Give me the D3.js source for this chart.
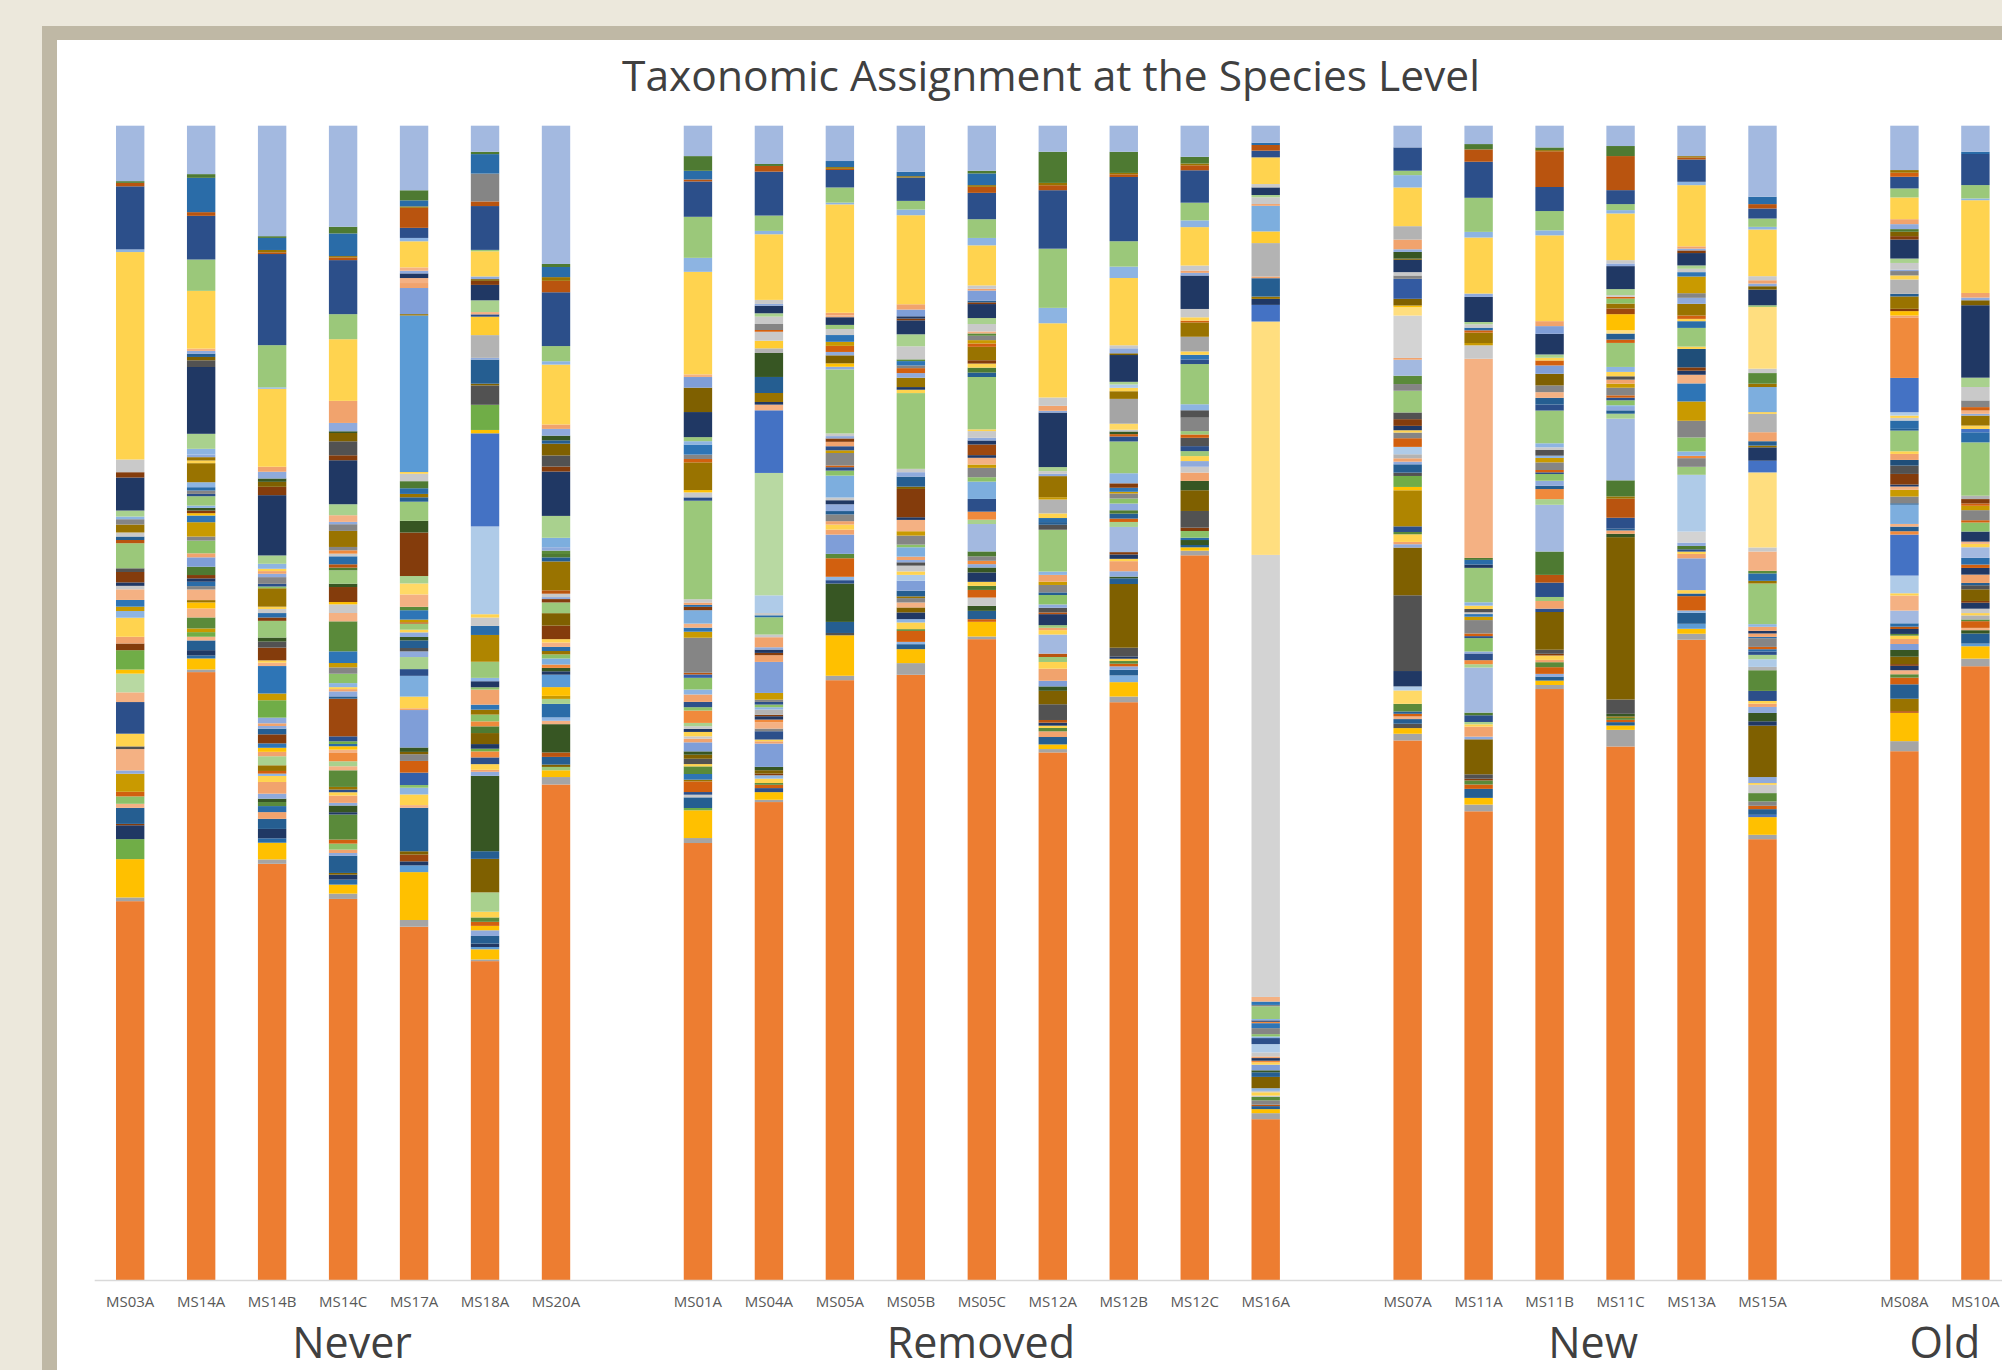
<!DOCTYPE html>
<html lang="en">
<head>
<meta charset="UTF-8">
<script src="https://d3js.org/d3.v7.min.js"></script>
<style>
  html, body { margin: 0; height: 100%; overflow: hidden; background: #ECE8DC; }
</style>
<title>Taxonomic Assignment at the Species Level</title>
</head>
<body>
<svg id="svg"></svg>
<script>
// groups and samples, left to right (a blank slot separates the groups)
const groupNames = ['Never', 'Removed', 'New', 'Old'];
const neverSamples = ['MS03A', 'MS14A', 'MS14B', 'MS14C', 'MS17A', 'MS18A', 'MS20A'];
const removedSamples = ['MS01A', 'MS04A', 'MS05A', 'MS05B', 'MS05C', 'MS12A', 'MS12B', 'MS12C', 'MS16A'];
const newSamples = ['MS07A', 'MS11A', 'MS11B', 'MS11C', 'MS13A', 'MS15A'];
const oldSamples = ['MS08A', 'MS10A'];

// taxon colour keys (Excel palette)
const taxonColors = {
  o: '#ED7D31', g: '#A5A5A5', y: '#FFC000', b: '#5B9BD5', G: '#70AD47', B: '#4472C4',
  lb: '#A3B9E0', db: '#2C4F8A', nv: '#203864', nv2: '#1F4E79', ly: '#FFD34F', ly2: '#FFD966',
  y2: '#FFCC33', cream: '#FFDE7F', lg: '#9BC87A', lg2: '#8CC168', paleg: '#A9D18E', paleg2: '#B8D9A2',
  sb: '#8DB4E2', sb2: '#7DAEDE', sb3: '#AFCBE8', dg: '#4E7A32', mg: '#5A8A3A', fg: '#375623',
  rb: '#B9540F', or2: '#D2600F', or3: '#F08A3C', br: '#843C0C', br2: '#9E480E', mb: '#2A6CA8',
  mb2: '#2E75B6', teal: '#255E91', ol: '#7F6000', go: '#997300', gold2: '#AF8500', mustard: '#C99A00',
  dk: '#525252', gr2: '#858585', gr: '#B3B3B3', lgy: '#C9C9C9', lgy2: '#D3D3D3', pa: '#F4B183',
  sa: '#F1A36D', pb: '#8FAADC', pb2: '#7F9ED8', B2: '#335AA1', db2: '#3560A8'
};

// relative abundance (%) per sample, listed from the top of the bar down
const ms03a = [['lb',4.8],['dg',.15],['rb',.3],['db',5.46],['sb',.23],['ly',17.96],['lgy',1.1],['br',.46],['nv',2.86],['paleg',.52],['sb',.23],['gr2',.46],['go',.69],['lgy',.35],['teal',.3],['rb',.28],['lg',2.17],['dk',.32],['br',.9],['nv',.3],['lgy',.3],['pa',.92],['mb2',.58],['mustard',.38],['sb',.58],['ly',1.65],['sa',.58],['br',.58],['G',1.68],['y',.35],['paleg2',1.62],['pa',.84],['db',2.74],['ly',1.1],['dk',.23],['pa',1.85],['pb',.29],['mustard',1.56],['or2',.4],['lg2',.64],['pa',.35],['teal',1.39],['br',.12],['nv',1.2],['G',1.73],['y',3.32],['g',.32],['o',32.8]];
const ms14a = [['lb',4.19],['dg',.32],['mb',2.97],['rb',.32],['db',3.78],['lg',2.71],['ly',5.0],['pa',.2],['pb',.23],['teal',.29],['ol',.29],['dk',.58],['nv',5.78],['paleg',1.3],['sb',.49],['pb',.23],['go',.29],['ly',.23],['go',1.65],['sb',.43],['mb',.29],['gr2',.29],['db',.2],['lg',.81],['sb',.2],['fg',.23],['br',.23],['y',.2],['mb2',.58],['mustard',1.24],['gr2',.35],['lg2',1.1],['sa',.35],['pb2',.81],['dg',.72],['br',.29],['nv',.29],['mb',.38],['gr2',.29],['pa',.92],['go',.2],['y',.52],['pa',.78],['mg',.95],['mustard',.32],['G',.4],['pa',.32],['teal',.84],['nv',.46],['mb',.26],['y',.95],['g',.23],['o',52.6]];
const ms14b = [['lb',9.53],['dg',.15],['mb',1.04],['go',.2],['rb',.15],['db',7.86],['lg',3.64],['sb',.12],['ly',6.73],['sa',.43],['pb',.58],['fg',.29],['ol',.43],['br',.72],['nv',5.2],['paleg',.72],['sb',.43],['ly',.2],['sa',.23],['pb',.29],['gr2',.58],['db',.23],['lg2',.15],['go',1.59],['ly',.2],['lgy',.35],['mb',.38],['br',.29],['lg',1.44],['fg',.35],['dk',.52],['br',1.1],['ly',.2],['pa',.29],['mb2',2.37],['mustard',.58],['G',1.5],['pb',.49],['sa',.23],['pb',.23],['teal',.49],['br',.78],['mb2',.38],['y',.35],['sa',.38],['paleg',.78],['go',.49],['or2',.23],['sb',.2],['ly',.52],['sa',1.01],['pb',.43],['fg',.29],['mg',.35],['mb',.52],['sa',.58],['teal',.87],['nv',.81],['mb',.38],['y',1.44],['g',.38],['o',35.9]];
const ms14c = [['lb',8.75],['dg',.58],['mb',1.96],['go',.12],['rb',.23],['db',4.68],['lg',2.17],['ly',5.34],['sa',1.91],['pb',.72],['fg',.15],['ol',.72],['dk',1.21],['br',.43],['nv',3.81],['paleg',.95],['pa',.58],['pb',.2],['gr2',.58],['go',1.39],['gr2',.29],['or3',.29],['lgy',.23],['mb',.69],['rb',.29],['dg',.23],['lg',1.16],['fg',.29],['br',1.3],['y',.2],['lgy',.75],['pa',.72],['mg',2.6],['mb2',1.01],['mustard',.38],['gr2',.55],['lg2',.81],['sb',.35],['ly',.17],['sa',.2],['pb',.43],['teal',.2],['br2',3.26],['db',.43],['G',.23],['mb',.2],['y',.29],['pa',.29],['or3',.72],['paleg',.43],['pa',.35],['mg',1.44],['go',.23],['db',.23],['ly',.29],['sa',.63],['pb',.23],['fg',.58],['nv',.2],['mg',2.17],['or2',.35],['lg2',.52],['sa',.29],['pb',.23],['teal',1.5],['ol',.15],['nv',.43],['mb',.43],['y',.78],['g',.46],['o',33.0]];
const ms17a = [['lb',5.57],['dg',.87],['mb',.52],['go',.12],['rb',1.73],['db',.87],['sb',.29],['ly',2.25],['pa',.29],['pb',.23],['nv',.4],['pa',.43],['sa',.43],['pb2',2.25],['go',.12],['b',13.5],['ly',.15],['lgy',.64],['dg',.61],['mb',.49],['go',.29],['teal',.38],['lg',1.65],['fg',1.01],['br',3.75],['paleg',.64],['ly2',.95],['pa',1.07],['mg',.29],['mb2',.81],['mustard',.23],['rb',.12],['lg',.52],['ly',.23],['pb',.4],['fg',.29],['teal',.66],['dk',.29],['pb',.49],['paleg',1.04],['db',.58],['sb2',1.79],['ly',1.01],['sa',.15],['pb2',3.23],['fg',.38],['ol',.2],['gr2',.58],['or2',1.01],['db2',1.07],['lg2',.23],['sb',.58],['ly',.92],['pa',.23],['teal',3.75],['ol',.29],['br2',.58],['nv',.35],['b',.58],['y',4.13],['g',.58],['o',30.47]];
const ms18a = [['lb',2.25],['dg',.2],['mb',1.68],['gr2',2.4],['rb',.4],['db',3.78],['lg',.12],['ly',2.17],['pb',.23],['ol',.15],['br',.35],['nv',1.33],['paleg',1.01],['pa',.2],['db',.2],['y2',1.59],['gr',1.96],['pb',.15],['teal',2.08],['ol',.15],['dk',1.67],['G',2.17],['y',.29],['B',8.03],['sb3',7.57],['ly',.29],['lgy',.72],['mb',.78],['gold2',2.31],['lg',1.39],['sb',.29],['nv',.52],['lg2',.2],['sa',1.3],['mb2',.43],['go',.43],['lg2',.58],['or3',.43],['dg',.58],['ol',.95],['nv',.4],['G',.23],['or3',.52],['db',.58],['ly',.49],['sa',.17],['pb',.35],['fg',6.5],['teal',.66],['ol',2.89],['paleg',1.67],['ly',.49],['mg',.38],['or2',.35],['y',.38],['pb',.49],['teal',.66],['nv',.29],['b',.2],['y',.87],['g',.15],['o',27.5]];
const ms20a = [['lb',11.87],['dg',.26],['mb',.87],['go',.32],['rb',.98],['db',4.62],['lg',1.3],['sb',.29],['ly',5.14],['sa',.38],['pb',.58],['fg',.4],['teal',.29],['ol',1.01],['dk',.95],['br',.43],['nv',3.81],['paleg',1.88],['sb2',.81],['pb',.29],['mg',.29],['dg',.29],['teal',.35],['go',2.48],['rb',.29],['lgy',.29],['pb',.17],['br',.29],['lg',.92],['ol',1.07],['br',1.16],['ly',.29],['pa',.38],['mb',.35],['go',.29],['lg2',.35],['sb2',.52],['or3',.29],['fg',.29],['nv',.29],['b',1.07],['y',.75],['mustard',.26],['paleg',.43],['mb',1.16],['sb',.29],['pa',.29],['fg',2.43],['rb',.38],['teal',.66],['ol',.2],['lg',.29],['y',.58],['g',.64],['o',42.54]];

const ms01a = [['lb',2.63],['dg',1.27],['mb',.75],['rb',.17],['db',3.06],['lg',3.55],['sb',1.21],['ly',8.87],['pa',.23],['pb2',.92],['ol',2.11],['nv',2.17],['lg',.35],['sb',.29],['mb2',.87],['gr2',.38],['or2',.29],['go',2.4],['y',.2],['lgy',.43],['db',.29],['lg',8.52],['lgy',.29],['sa',.2],['mb',.17],['br',.29],['sb2',1.16],['pa',.35],['mb2',.35],['mustard',.52],['gr2',3.03],['rb',.15],['db2',.29],['lg2',1.01],['sb',.43],['sa',.64],['db',.46],['lg2',.29],['or3',1.07],['paleg',.29],['lgy',.23],['nv',.26],['ly',.38],['lgy',.2],['sa',.32],['pb2',.78],['fg',.29],['ol',.35],['dk',.46],['ly',.2],['mg',.66],['mb2',.49],['go',.15],['or2',.92],['db',.23],['lgy',.23],['teal',.92],['G',.2],['y',2.4],['g',.43],['o',37.8]];
const ms04a = [['lb',3.32],['dg',.17],['rb',.49],['db',3.81],['lg',1.33],['sb',.29],['ly',5.69],['lgy',.35],['pb',.15],['nv',.66],['paleg',.29],['lgy',.64],['gr2',.52],['or2',.15],['lgy',.78],['y2',.66],['gr',.4],['fg',2.08],['teal',1.39],['go',.78],['nv',.23],['pa',.49],['B',5.43],['paleg2',10.61],['sb3',1.53],['lgy',.2],['mb',.17],['lg',1.5],['lgy',.23],['sa',.87],['pb',.2],['nv',.29],['br',.2],['sa',.58],['pb2',2.69],['mustard',.58],['gr2',.2],['db',.23],['lg2',.23],['sb',.2],['gr',.46],['br',.12],['nv',.29],['or3',.23],['pa',.55],['gr2',.23],['db',.72],['ly',.15],['sa',.2],['pb2',2.02],['fg',.29],['ol',.29],['br',.15],['sb',.29],['ly',.38],['mg',.15],['or2',.29],['db',.35],['y',.66],['g',.2],['o',41.43]];
const ms05a = [['lb',3.03],['mb',.52],['go',.15],['rb',.1],['db',1.5],['lg',1.3],['sb',.15],['ly',9.3],['sa',.23],['pa',.15],['nv',.66],['lg',.35],['lgy',.52],['mb2',.58],['mustard',.35],['or2',.52],['pb',.29],['ol',.69],['y',.29],['pb',.23],['lg',5.49],['lgy',.23],['pb',.2],['br',.29],['sa',.38],['db',.35],['mustard',.23],['gr2',1.07],['or2',.15],['db',.29],['lg2',.43],['sb2',1.88],['lgy',.23],['nv',.35],['pb',.58],['teal',.29],['gr2',.58],['sa',.29],['ly',.43],['sa',.43],['pb2',1.65],['mg',.38],['or2',1.59],['sb',.29],['db',.29],['fg',3.29],['teal',.95],['dk',.2],['y',3.47],['g',.38],['o',51.46]];
const ms05b = [['lb',3.99],['mb',.38],['go',.12],['db',2.02],['lg',.75],['sb',.49],['ly',7.71],['sa',.46],['pb2',.58],['nv',.2],['br',.15],['nv',1.21],['paleg',1.04],['lgy',1.13],['mg',.15],['mb2',.38],['gr2',.23],['or2',.43],['pb',.4],['go',.81],['nv',.23],['ly',.29],['lg',6.56],['lgy',.29],['pb',.38],['teal',.87],['ol',.2],['br',2.45],['nv',.23],['pa',.98],['mustard',.38],['gr2',.78],['lg2',.23],['sb2',.81],['sa',.29],['pb',.2],['dk',.29],['lgy',.5],['ly',.3],['sb3',.5],['pb2',.87],['teal',.49],['go',.15],['gr2',.38],['pa',.43],['ol',.43],['nv',.58],['sb',.29],['ly',.58],['mg',.15],['or2',.95],['sb',.2],['teal',.43],['y',1.21],['g',1.01],['o',52.4]];
const ms05c = [['lb',3.9],['dg',.23],['mb',1.01],['go',.15],['rb',.52],['db',2.28],['lg',1.62],['sb',.64],['ly',3.47],['lgy',.29],['sa',.15],['pb2',.87],['teal',.15],['br',.15],['nv',1.21],['paleg',.52],['lgy',.64],['pa',.17],['mg',.2],['gr2',.38],['mustard',.29],['or2',.29],['go',1.16],['br',.29],['ly',.35],['dg',.43],['teal',.38],['lg',4.53],['ly',.15],['lgy',.58],['pb',.23],['nv',.35],['br2',.92],['nv',.23],['pa',.58],['mustard',.29],['gr2',.81],['lg2',.38],['sb2',1.5],['db',1.1],['or3',.69],['paleg',.38],['lb',2.37],['dg',.43],['gr2',.38],['or3',.29],['pb',.29],['fg',.43],['nv',.81],['ly',.35],['dg',.35],['or2',.66],['lgy',.72],['fg',.43],['teal',.72],['or2',.23],['y',1.27],['g',.23],['o',55.44]];
const ms12a = [['lb',2.25],['dg',2.69],['go',.2],['rb',.43],['db',5.05],['lg',5.11],['sb',1.33],['ly',6.41],['lgy',.72],['sa',.43],['pb',.15],['nv',4.71],['paleg',.35],['lgy',.23],['pb',.2],['go',1.82],['mustard',.2],['gr',1.2],['ly',.4],['mb',.35],['teal',.23],['dk',.43],['lg',3.61],['sb',.29],['sa',.58],['mustard',.29],['gr2',.64],['teal',.23],['lg2',.81],['pb',.29],['dk',.4],['rb',.15],['nv',.95],['lg',.23],['sa',.2],['ly',.38],['lb',1.65],['rb',.29],['lg',.43],['ly',.58],['sa',1.04],['pb2',.49],['fg',.38],['ol',1.16],['dk',1.36],['rb',.23],['nv',.26],['ly',.2],['mg',.29],['sa',.49],['teal',.64],['y',.4],['g',.29],['o',45.56]];
const ms12b = [['lb',2.25],['dg',1.82],['go',.12],['rb',.23],['db',5.54],['lg',2.19],['sb',.98],['ly',5.8],['lgy',.26],['pb',.43],['ol',.15],['nv',2.31],['paleg',.23],['sb3',.29],['ly',.29],['go',.66],['g',2.14],['ly2',.52],['lgy',.15],['fg',.23],['or2',.2],['db',.43],['lg',2.74],['sb',.87],['br',.38],['mb2',.35],['mustard',.15],['gr2',.43],['lg2',.43],['pb',.58],['dg',.29],['teal',.43],['or2',.29],['paleg',.43],['lb',2.17],['br',.2],['nv',.38],['ly',.2],['sa',.87],['pb',.46],['fg',.15],['teal',.49],['ol',5.49],['dk',.75],['nv',.2],['ly',.2],['mg',.23],['or2',.23],['pb',.29],['teal',.49],['sb2',.58],['y',1.24],['g',.49],['o',49.81]];
const ms12c = [['lb',2.69],['dg',.58],['go',.15],['rb',.43],['db',2.8],['lg',1.53],['sb',.58],['ly',3.32],['lgy',.43],['sa',.2],['pb',.23],['nv',2.89],['lgy',.72],['ly',.29],['or2',.15],['go',1.24],['g',1.27],['ly',.29],['mb2',.4],['db',.4],['lg',3.47],['sb',.52],['dk',.64],['gr2',1.16],['lg',.29],['or2',.29],['dk',.72],['db',.43],['lg',.43],['ly',.43],['pb',.49],['lgy',.5],['sa',.72],['fg',.81],['ol',1.79],['dk',1.44],['br',.29],['lg2',.58],['mb',.2],['fg',.43],['teal',.2],['y',.29],['g',.4],['o',62.6]];
const ms16a = [['lb',1.47],['mb',.2],['rb',.49],['db',.58],['ly',2.31],['lgy',.29],['nv',.66],['paleg',.2],['lgy',.58],['sa',.15],['sb2',2.22],['y2',1.01],['gr',2.89],['sa',.15],['teal',1.59],['go',.2],['nv',.52],['B',1.44],['cream',20.2],['lgy2',38.26],['pa',.4],['mb2',.29],['gr2',.12],['lg',1.1],['sb',.12],['nv',.12],['or3',.12],['mb2',.43],['gr2',.52],['lg2',.2],['sb',.14],['db',.52],['sb3',.72],['lgy',.35],['sa',.14],['nv',.23],['or3',.14],['ly',.2],['pb2',.49],['fg',.17],['teal',.4],['ol',.98],['sb',.23],['lgy',.12],['ly',.29],['lgy',.12],['mg',.29],['gr2',.38],['rb',.12],['teal',.26],['y',.35],['g',.52],['o',13.92]];

const ms07a = [['lb',1.88],['db',2.02],['lg',.38],['sb',1.07],['ly',3.35],['gr',1.16],['sa',.84],['pb',.23],['fg',.58],['ol',.1],['nv',1.07],['lgy',.29],['gr2',.29],['B2',1.73],['ol',.58],['y',.15],['cream',.72],['lgy2',3.67],['sa',.15],['lb',1.39],['mg',.72],['gr2',.58],['lg',1.88],['dk',.58],['br',.58],['nv',.38],['ly',.2],['gr2',.49],['or2',.75],['sb3',.64],['gr',.35],['sa',.29],['pb',.23],['teal',.72],['dk',.29],['G',.95],['y',.29],['gold2',3.12],['db',.49],['mg',.2],['ly',.66],['sa',.2],['pb',.29],['ol',4.13],['dk',6.56],['nv',1.33],['sb3',.35],['ly2',1.16],['mg',.66],['teal',.2],['or2',.23],['pa',.23],['teal',.4],['dk',.38],['y',.49],['g',.58],['o',46.72]];
const ms11a = [['lb',1.59],['dg',.46],['rb',1.07],['db',3.12],['lg',2.95],['sb',.49],['ly',4.85],['pb',.29],['nv',2.17],['paleg',.2],['lgy',.29],['mb',.23],['or2',.2],['go',.9],['mustard',.2],['lgy',1.16],['pa',17.24],['dg',.17],['mb',.4],['nv',.29],['lg',2.98],['sb',.29],['ly',.29],['dk',.29],['lgy',.15],['mb2',.23],['mustard',.29],['gr2',1.16],['or2',.23],['db',.17],['lg2',1.16],['pb',.17],['db',.58],['or3',.35],['paleg',.29],['lb',3.9],['dg',.23],['db',.58],['paleg',.2],['ly',.2],['sa',.87],['pb',.23],['ol',3.03],['dk',.38],['br',.15],['mg',.35],['or2',.38],['teal',.78],['y',.58],['g',.58],['o',40.57]];
const ms11b = [['lb',1.88],['dg',.23],['go',.1],['rb',3.09],['db',2.08],['lg',1.67],['sb',.43],['ly',7.42],['sa',.43],['pb2',.66],['nv',1.79],['paleg',.29],['ly',.23],['or2',.43],['pb2',.72],['ol',1.01],['gr2',.58],['pa',.49],['teal',.58],['db',.52],['lg',2.83],['sb',.35],['lgy',.23],['dk',.49],['sb',.2],['mustard',.38],['gr2',.66],['or2',.2],['db',.15],['lg2',.58],['pb',.43],['teal',.29],['or3',.87],['paleg',.49],['lb',4.04],['dg',2.02],['rb',.67],['db',1.24],['lg',.35],['sa',.66],['db',.29],['ol',3.26],['dk',.35],['br',.15],['ly',.38],['sa',.2],['mg',.43],['or2',.58],['pb',.23],['teal',.35],['y',.38],['g',.35],['o',51.1]];
const ms11c = [['lb',1.76],['dg',.87],['rb',2.95],['db',1.21],['lg',.52],['sb',.29],['ly',4.04],['lgy',.29],['pb',.23],['nv',1.99],['paleg',.52],['lgy',.15],['or2',.15],['lg2',.43],['go',.43],['br2',.49],['y',1.39],['cream',.29],['teal',.52],['or2',.29],['lg',2.08],['sb',.43],['ly',.38],['dk',.29],['sa',.35],['mustard',.35],['gr2',.66],['or2',.2],['db',.23],['lg2',.43],['sb',.15],['pb',.29],['teal',.29],['paleg',.43],['lb',5.34],['dg',1.39],['go',.2],['rb',1.65],['db',.95],['teal',.15],['sa',.29],['fg',.29],['ol',14.06],['dk',1.24],['fg',.23],['go',.12],['mg',.17],['or2',.2],['teal',.29],['y',.38],['g',1.44],['o',46.2]];
const ms13a = [['lb',2.63],['go',.12],['rb',.17],['db',1.93],['sb',.29],['ly',5.29],['sa',.2],['pb',.15],['br',.23],['nv',1.07],['paleg',.29],['lgy',.29],['mb2',.38],['mustard',1.44],['gr2',.4],['pb',.52],['go',1.01],['or2',.29],['ly',.2],['mb',.58],['lg',1.62],['ly',.2],['nv2',1.59],['br',.29],['nv',.35],['pa',.75],['mb2',1.56],['mustard',1.67],['gr2',1.44],['lg2',1.21],['sb',.38],['or3',.2],['gr2',.75],['lg',.69],['sb3',4.91],['lgy2',.95],['pb',.29],['dg',.29],['db',.2],['ly',.2],['sa',.38],['pb2',2.75],['ly',.29],['teal',.23],['or2',1.24],['sb',.2],['teal',.95],['b',.43],['y',.43],['g',.52],['o',55.35]];
const ms15a = [['lb',6.15],['mb',.64],['rb',.38],['db',.87],['lg',.72],['sb',.23],['ly',4.04],['lgy',.35],['sa',.29],['pb',.23],['ol',.29],['nv',1.36],['lg',.15],['cream',5.34],['lgy',.38],['mg',.92],['go',.29],['sb2',2.17],['ly',.15],['gr',1.59],['sa',.78],['teal',.38],['go',.15],['nv',1.16],['B',1.01],['cream',6.5],['lgy',.35],['pa',1.67],['mg',.23],['mb',.64],['go',.23],['lg',3.52],['sb',.23],['sa',.35],['nv',.23],['sa',.29],['mb',.12],['gr2',.75],['or2',.2],['mb',.2],['db',.29],['paleg',.38],['sb3',.66],['gr',.29],['mg',1.79],['db',.87],['ly',.23],['sa',.29],['pb',.52],['fg',.72],['nv',.38],['ol',4.45],['pb',.52],['ly',.15],['lgy',.72],['mg',.72],['gr2',.38],['or2',.29],['teal',.49],['B',.2],['y',1.53],['g',.38],['o',38.17]];

const ms08a = [['lb',3.84],['go',.23],['or2',.35],['db',1.01],['lg',.78],['ly',1.88],['sa',.43],['pb',.43],['dg',.23],['ol',.38],['br',.29],['nv',1.65],['paleg',.38],['lgy',.58],['pb',.12],['gr2',.38],['ly',.35],['gr',1.24],['teal',.23],['go',1.07],['br',.2],['y',.38],['sa',.2],['or3',5.2],['B',2.97],['sb3',.29],['ly',.2],['lgy',.23],['mb',.72],['teal',.15],['lg',1.79],['ly',.23],['sa',.52],['nv2',.49],['dk',.72],['br',.92],['nv',.17],['pa',.29],['mustard',.58],['gr2',.58],['teal',.12],['sb2',1.67],['pa',.23],['teal',.4],['or3',.29],['B',3.55],['sb3',1.53],['ly',.2],['pa',1.3],['lb',1.1],['mb',.29],['rb',.2],['nv',.43],['mg',.15],['ly',.29],['sa',.43],['pb2',.52],['fg',.58],['ol',.64],['br',.15],['nv',.38],['pa',.35],['mg',.29],['or2',.58],['teal',1.25],['go',1.07],['rb',.15],['y',2.45],['g',.87],['o',45.77]];
const ms10a = [['lb',2.25],['mb',.2],['db',2.69],['lg',1.16],['sb',.15],['ly',8.03],['sa',.4],['pb',.23],['ol',.43],['nv',6.27],['paleg',.81],['lgy',1.16],['gr2',.58],['or2',.29],['pa',.29],['pb',.15],['go',.87],['ly',.29],['B',.29],['mb',.87],['lg',4.62],['gr',.29],['br',.38],['or2',.2],['mustard',.38],['gr2',.87],['or2',.2],['lg2',.78],['nv',.87],['pa',.2],['ly',.29],['lb',.92],['mb',.58],['or2',.29],['nv',.58],['sa',.72],['teal',.2],['dk',.35],['ol',1.01],['br',.15],['nv',.52],['lgy',.38],['ly',.2],['gr',.35],['mg',.15],['or2',.58],['pa',.2],['fg',.29],['teal',.87],['b',.23],['y',1.07],['g',.66],['o',53.13]];

const sampleValues = {
  MS03A: ms03a, MS14A: ms14a, MS14B: ms14b, MS14C: ms14c, MS17A: ms17a, MS18A: ms18a, MS20A: ms20a,
  MS01A: ms01a, MS04A: ms04a, MS05A: ms05a, MS05B: ms05b, MS05C: ms05c, MS12A: ms12a, MS12B: ms12b,
  MS12C: ms12c, MS16A: ms16a, MS07A: ms07a, MS11A: ms11a, MS11B: ms11b, MS11C: ms11c, MS13A: ms13a,
  MS15A: ms15a, MS08A: ms08a, MS10A: ms10a
};

const W = 2002, H = 1370;
const svg = d3.select('#svg').attr('width', W).attr('height', H);

// page frame
svg.append('rect').attr('x', 0).attr('y', 0).attr('width', W).attr('height', H).attr('fill', '#ECE8DC');
svg.append('rect').attr('x', 42).attr('y', 26).attr('width', W).attr('height', H).attr('fill', '#BFB8A5');
svg.append('rect').attr('x', 57).attr('y', 40).attr('width', W).attr('height', H).attr('fill', '#FFFFFF');

svg.append('text')
  .attr('x', 1051).attr('y', 91)
  .attr('text-anchor', 'middle')
  .attr('font-family', '"Open Sans", sans-serif')
  .attr('font-size', 42.5)
  .attr('fill', '#404040')
  .text('Taxonomic Assignment at the Species Level');

// slots: each group followed by one blank slot
const groupList = [neverSamples, removedSamples, newSamples, oldSamples];
const slots = [];
groupList.forEach((g, i) => {
  g.forEach(s => slots.push(s));
  if (i < groupList.length - 1) slots.push('gap' + i);
});

const step = 70.97;
const x = d3.scaleBand()
  .domain(slots)
  .range([94.7, 94.7 + step * slots.length])
  .paddingInner(0.6)
  .paddingOuter(0.3);

const y = d3.scaleLinear().domain([0, 100]).range([1280, 125.7]);

const plot = svg.append('g');

const allSamples = groupList.flat();
allSamples.forEach(name => {
  const segs = sampleValues[name].slice().reverse(); // bottom up
  const total = d3.sum(segs, d => d[1]);
  let acc = 0;
  const stacked = segs.map(d => {
    const y0 = acc / total * 100;
    acc += d[1];
    return { key: d[0], y0: y0, y1: acc / total * 100 };
  });
  plot.append('g').selectAll('rect').data(stacked).join('rect')
    .attr('x', x(name))
    .attr('width', x.bandwidth())
    .attr('y', d => y(d.y1))
    .attr('height', d => y(d.y0) - y(d.y1))
    .attr('fill', d => taxonColors[d.key]);
});

// category axis
svg.append('line')
  .attr('x1', 94.7).attr('x2', W)
  .attr('y1', 1280.5).attr('y2', 1280.5)
  .attr('stroke', '#D9D9D9').attr('stroke-width', 1.5);

svg.append('g').selectAll('text').data(allSamples).join('text')
  .attr('x', d => x(d) + x.bandwidth() / 2)
  .attr('y', 1307)
  .attr('text-anchor', 'middle')
  .attr('font-family', '"Open Sans", sans-serif')
  .attr('font-size', 15)
  .attr('fill', '#595959')
  .text(d => d);

// group labels sit a little right of the exact group centre in the original
const labelNudge = [9, -1, 8, 5];
svg.append('g').selectAll('text').data(groupNames).join('text')
  .attr('x', (d, i) => {
    const g = groupList[i];
    return (x(g[0]) + x(g[g.length - 1]) + x.bandwidth()) / 2 + labelNudge[i];
  })
  .attr('y', 1358)
  .attr('text-anchor', 'middle')
  .attr('font-family', '"Open Sans", sans-serif')
  .attr('font-size', 43)
  .attr('fill', '#404040')
  .text(d => d);
</script>
</body>
</html>
